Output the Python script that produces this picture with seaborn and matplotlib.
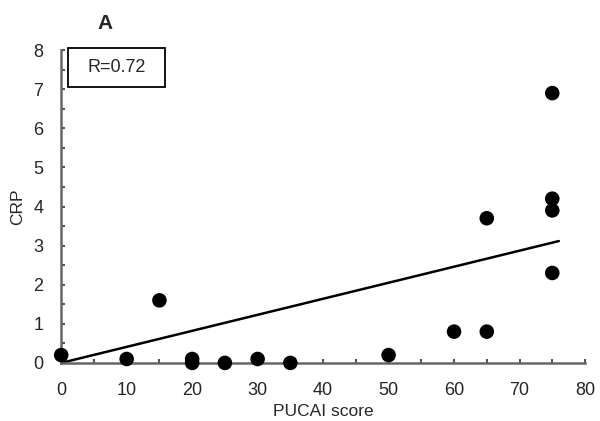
import matplotlib

matplotlib.use("Agg")
import matplotlib.pyplot as plt
import numpy as np
import pandas as pd
import seaborn as sns
from matplotlib.patches import Rectangle
from matplotlib.ticker import MultipleLocator

pucai = [0, 10, 15, 20, 20, 25, 30, 35, 50, 60, 65, 65, 75, 75, 75, 75]
crp = [0.2, 0.1, 1.6, 0.1, 0.0, 0.0, 0.1, 0.0, 0.2, 0.8, 0.8, 3.7, 6.9, 4.2, 3.9, 2.3]
r_label = "R=0.72"

df = pd.DataFrame({"PUCAI score": pucai, "CRP": crp})

# Trendline through the origin (least squares, intercept fixed at 0)
slope = (df["PUCAI score"] * df["CRP"]).sum() / (df["PUCAI score"] ** 2).sum()
fit = pd.DataFrame({"x": [0, df["PUCAI score"].max() + 1]})
fit["y"] = slope * fit["x"]

sns.set_style("white")
plt.rcParams["font.family"] = ["Liberation Sans", "DejaVu Sans"]

fig = plt.figure(figsize=(6, 4.21), dpi=100)
ax = fig.add_axes([0.102, 0.138, 0.873, 0.743])

sns.lineplot(data=fit, x="x", y="y", color="black", linewidth=1.8, ax=ax, zorder=2)
sns.scatterplot(data=df, x="PUCAI score", y="CRP", color="black", s=110, edgecolor="none", ax=ax, zorder=3, clip_on=False)

ax.set_xlim(0, 80)
ax.set_ylim(0, 8)
ax.xaxis.set_major_locator(MultipleLocator(10))
ax.xaxis.set_minor_locator(MultipleLocator(5))
ax.yaxis.set_major_locator(MultipleLocator(1))
ax.yaxis.set_minor_locator(MultipleLocator(0.5))
ax.tick_params(which="both", bottom=True, left=True, direction="in", length=3, width=1.5,
               color="#555555", labelsize=13, pad=14)
ax.tick_params(axis="y", pad=13)

for side in ("top", "right"):
    ax.spines[side].set_visible(False)
for side in ("left", "bottom"):
    ax.spines[side].set_color("#666666")
    ax.spines[side].set_linewidth(1.8)

ax.set_xlabel("PUCAI score", fontsize=12.5, labelpad=3)
ax.set_ylabel("CRP", fontsize=12.5, labelpad=6)

# R annotation box (upper left, wider than tall)
ax.add_patch(Rectangle((1.1, 7.06), 14.8, 1.0, facecolor="white", edgecolor="black",
                       linewidth=1.3, zorder=4, clip_on=False))
ax.text(8.5, 7.55, r_label, fontsize=13, ha="center", va="center", zorder=5)
fig.text(0.175, 0.945, "A", fontsize=15, fontweight="bold", ha="center", va="center")

fig.savefig("out.png", dpi=100)
